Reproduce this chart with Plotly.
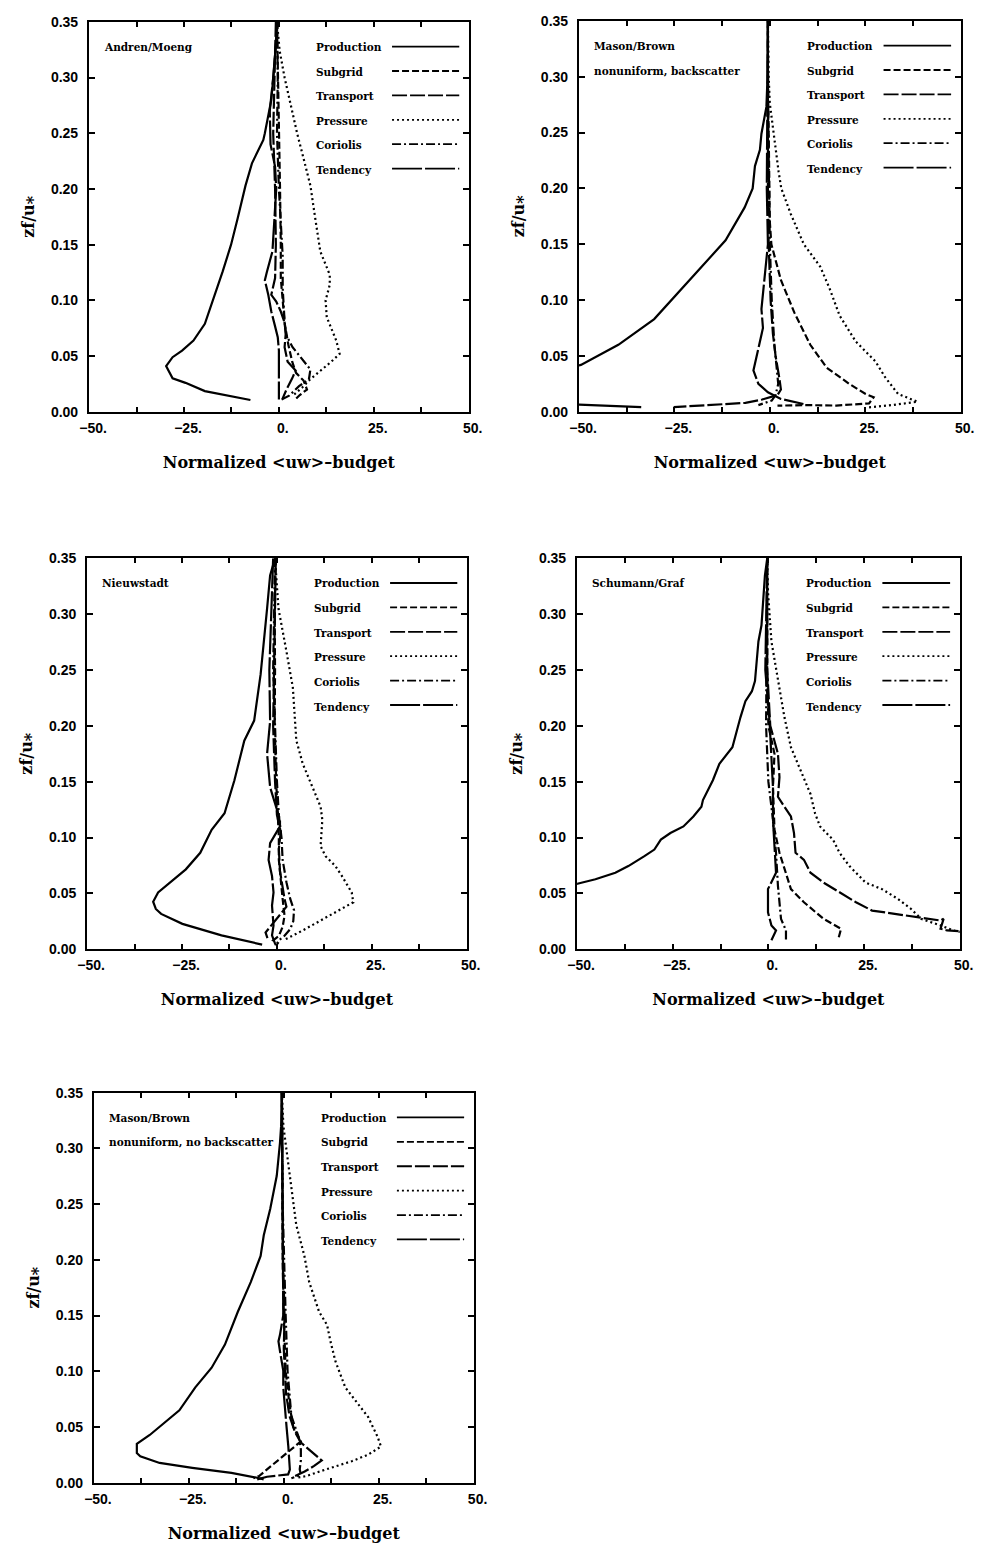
import plotly.graph_objects as go

# ------------------------------------------------------------------ data
series_names = ["Production", "Subgrid", "Transport", "Pressure", "Coriolis", "Tendency"]
x_tick_values = [-50, -25, 0, 25, 50]
x_tick_labels = ["−50.", "−25.", "0.", "25.", "50."]
y_tick_values = [0, 0.05, 0.10, 0.15, 0.20, 0.25, 0.30, 0.35]
y_tick_labels = ["0.00", "0.05", "0.10", "0.15", "0.20", "0.25", "0.30", "0.35"]

# Panel 1: Andren/Moeng
am_production_z = [0.35, 0.333, 0.303, 0.28, 0.25, 0.244, 0.223, 0.203, 0.173, 0.15, 0.126, 0.10, 0.079, 0.064, 0.055, 0.049, 0.041, 0.030, 0.026, 0.0186, 0.0106]
am_production_v = [-0.5, -0.7, -1.4, -2.0, -3.7, -4.1, -7.1, -8.8, -10.9, -12.6, -14.8, -17.3, -19.5, -22.5, -25.5, -28.0, -29.7, -28.0, -24.6, -19.5, -7.5]
am_subgrid_z = [0.35, 0.30, 0.25, 0.20, 0.15, 0.12, 0.10, 0.08, 0.06, 0.045, 0.035, 0.028, 0.02, 0.015, 0.01]
am_subgrid_v = [-0.5, -0.2, 0.0, 0.3, 0.5, 0.5, 1.0, 1.5, 2.5, 3.5, 4.5, 6.5, 7.4, 5.5, 4.0]
am_transport_z = [0.35, 0.30, 0.25, 0.20, 0.15, 0.12, 0.105, 0.099, 0.09, 0.08, 0.07, 0.058, 0.045, 0.037, 0.03, 0.02, 0.012]
am_transport_v = [-0.8, -1.2, -1.5, -1.0, -0.8, -1.0, -2.0, -0.7, 0.5, 1.5, 1.8, 1.5, 2.3, 4.4, 3.5, 2.0, 1.0]
am_pressure_z = [0.35, 0.324, 0.30, 0.274, 0.25, 0.226, 0.203, 0.173, 0.144, 0.123, 0.114, 0.10, 0.085, 0.064, 0.052, 0.045, 0.038, 0.029, 0.022, 0.014]
am_pressure_v = [-0.5, 0.2, 1.5, 3.2, 4.8, 6.6, 8.3, 9.6, 10.9, 13.4, 13.4, 12.3, 12.6, 15.1, 16.0, 13.8, 11.3, 8.2, 6.2, 3.5]
am_coriolis_z = [0.35, 0.30, 0.25, 0.20, 0.14, 0.111, 0.081, 0.069, 0.058, 0.049, 0.038, 0.029, 0.023, 0.0145, 0.01]
am_coriolis_v = [-0.5, -0.3, -0.5, 0.0, 1.0, 1.0, 1.5, 1.9, 3.6, 5.7, 8.3, 7.9, 5.3, 2.7, 0.1]
am_tendency_z = [0.35, 0.33, 0.30, 0.27, 0.24, 0.22, 0.20, 0.173, 0.144, 0.125, 0.118, 0.105, 0.09, 0.078, 0.067, 0.055, 0.04, 0.02, 0.011]
am_tendency_v = [-0.5, -0.8, -1.5, -2.4, -2.2, -1.0, -0.7, -1.1, -1.7, -3.2, -3.7, -2.8, -2.0, -1.1, -0.3, 0.0, 0.0, 0.0, 0.0]

# Panel 2: Mason/Brown, nonuniform, backscatter
mbb_production_z = [0.35, 0.30, 0.273, 0.249, 0.2345, 0.22, 0.20, 0.183, 0.1535, 0.121, 0.083, 0.06, 0.042, 0.03, 0.015, 0.008, 0.0042]
mbb_production_v = [-0.5, -0.6, -0.9, -2.2, -2.6, -3.9, -4.5, -6.6, -11.6, -20.1, -30.3, -39.7, -49.5, -65.0, -80.0, -62.0, -33.7]
mbb_subgrid_z = [0.35, 0.30, 0.25, 0.20, 0.17, 0.15, 0.118, 0.089, 0.06, 0.0395, 0.025, 0.016, 0.013, 0.0075, 0.0056, 0.006, 0.0055]
mbb_subgrid_v = [-0.5, -0.5, -0.3, -0.2, 0.0, 0.4, 2.9, 6.4, 10.6, 14.9, 20.8, 25.1, 27.2, 26.0, 17.4, 8.9, 2.0]
mbb_transport_z = [0.35, 0.25, 0.20, 0.15, 0.10, 0.07, 0.05, 0.03, 0.02, 0.015, 0.011, 0.008, 0.006, 0.0042]
mbb_transport_v = [-0.5, -0.6, -0.5, -0.3, 0.2, 0.8, 1.5, 2.5, 2.9, 2.0, -2.0, -6.4, -15.0, -25.2]
mbb_pressure_z = [0.35, 0.30, 0.276, 0.243, 0.215, 0.20, 0.177, 0.15, 0.13, 0.11, 0.086, 0.063, 0.045, 0.031, 0.016, 0.009, 0.006, 0.004]
mbb_pressure_v = [-0.5, -0.3, 0.0, 1.2, 2.3, 3.0, 5.5, 8.9, 13.2, 15.7, 18.3, 22.5, 27.7, 30.2, 33.6, 38.7, 32.0, 26.0]
mbb_coriolis_z = [0.35, 0.25, 0.15, 0.10, 0.06, 0.04, 0.025, 0.015, 0.01, 0.006]
mbb_coriolis_v = [-0.5, -0.4, 0.0, 0.5, 1.2, 1.8, 2.2, 1.5, 0.5, -3.0]
mbb_tendency_z = [0.35, 0.30, 0.25, 0.20, 0.15, 0.12, 0.092, 0.075, 0.06, 0.045, 0.037, 0.025, 0.0175, 0.016, 0.0115, 0.007]
mbb_tendency_v = [-0.5, -0.6, -0.8, -0.8, -0.5, -1.3, -2.2, -1.8, -2.8, -3.9, -4.3, -3.0, -0.5, 0.4, 2.9, 8.8]

# Panel 3: Nieuwstadt
nw_production_z = [0.35, 0.3346, 0.305, 0.2755, 0.246, 0.2047, 0.1867, 0.1513, 0.1217, 0.1069, 0.0863, 0.0715, 0.0567, 0.0508, 0.0425, 0.036, 0.0316, 0.0227, 0.0124, 0.0041]
nw_production_v = [-0.5, -1.8, -2.6, -3.5, -4.3, -6.0, -8.6, -11.2, -13.8, -17.2, -20.2, -24.0, -29.2, -31.3, -32.6, -31.9, -30.5, -24.9, -14.6, -3.9]
nw_subgrid_z = [0.35, 0.30, 0.25, 0.20, 0.15, 0.12, 0.10, 0.08, 0.06, 0.045, 0.03, 0.02, 0.012, 0.008, 0.005]
nw_subgrid_v = [-0.3, -0.6, -0.5, -0.6, -0.2, 0.2, 0.5, 0.5, 1.0, 1.5, 2.0, 1.5, 0.5, -1.0, 0.5]
nw_transport_z = [0.35, 0.30, 0.25, 0.20, 0.15, 0.12, 0.105, 0.09, 0.07, 0.055, 0.045, 0.038, 0.03, 0.022, 0.015, 0.01]
nw_transport_v = [-0.3, -0.5, -0.8, -1.0, -0.5, 0.0, 1.0, 0.5, 0.8, 1.5, 2.0, 2.5, 0.5, -1.5, -3.0, -2.5]
nw_pressure_z = [0.35, 0.305, 0.2667, 0.234, 0.2076, 0.187, 0.166, 0.145, 0.1276, 0.1158, 0.0922, 0.0833, 0.0744, 0.0656, 0.0508, 0.042, 0.0331, 0.0242, 0.0168, 0.0109, 0.008]
nw_pressure_v = [-0.5, 0.4, 2.5, 4.2, 4.7, 5.1, 6.8, 9.4, 11.5, 11.95, 11.5, 12.8, 15.4, 17.1, 19.7, 20.1, 15.4, 11.1, 6.8, 3.4, 1.7]
nw_coriolis_z = [0.35, 0.30, 0.25, 0.20, 0.15, 0.12, 0.10, 0.08, 0.06, 0.045, 0.035, 0.025, 0.018, 0.012, 0.008]
nw_coriolis_v = [-0.5, -0.8, -1.0, -0.5, 0.0, 0.5, 1.2, 1.5, 2.5, 3.5, 4.5, 4.3, 3.5, 2.0, 0.5]
nw_tendency_z = [0.35, 0.30, 0.25, 0.204, 0.175, 0.145, 0.125, 0.116, 0.11, 0.095, 0.080, 0.0656, 0.0508, 0.039, 0.0213, 0.0124, 0.005, 0.002]
nw_tendency_v = [-1.0, -1.5, -2.0, -1.8, -2.6, -1.8, -0.04, 0.8, 0.8, -1.8, -2.2, -1.3, -0.9, -1.3, -0.9, -1.3, -0.5, 0.0]

# Panel 4: Schumann/Graf
sg_production_z = [0.35, 0.3346, 0.29, 0.2755, 0.24, 0.231, 0.222, 0.2076, 0.1808, 0.166, 0.1513, 0.1335, 0.1276, 0.1188, 0.1099, 0.104, 0.0981, 0.0892, 0.0833, 0.0744, 0.0685, 0.0626, 0.0591, 0.05]
sg_production_v = [-0.3, -0.9, -1.8, -2.6, -3.5, -4.3, -6.0, -7.3, -9.4, -12.8, -14.5, -17.1, -17.5, -19.6, -22.2, -25.6, -28.1, -29.8, -32.4, -36.6, -40.0, -45.2, -49.4, -60.0]
sg_subgrid_z = [0.35, 0.25, 0.20, 0.175, 0.145, 0.107, 0.0863, 0.0685, 0.0538, 0.042, 0.0272, 0.0183, 0.008]
sg_subgrid_v = [-0.3, -0.3, 0.0, 1.6, 1.2, 1.6, 2.9, 4.6, 5.9, 9.3, 14.4, 19.0, 18.2]
sg_transport_z = [0.35, 0.25, 0.20, 0.175, 0.154, 0.1365, 0.1276, 0.1188, 0.104, 0.0863, 0.080, 0.0685, 0.0597, 0.0508, 0.042, 0.0346, 0.0301, 0.0257, 0.0272, 0.0183, 0.0168, 0.0162]
sg_transport_v = [-0.3, -0.3, 0.5, 2.5, 2.9, 2.5, 4.2, 5.9, 6.7, 7.1, 9.3, 11.0, 14.4, 18.6, 22.9, 27.1, 35.6, 45.0, 45.8, 45.0, 46.7, 49.7]
sg_pressure_z = [0.35, 0.32, 0.2755, 0.24, 0.2076, 0.1808, 0.160, 0.139, 0.1217, 0.1099, 0.098, 0.0863, 0.0744, 0.0597, 0.0538, 0.0449, 0.036, 0.0272, 0.0213, 0.0168, 0.0154, 0.013]
sg_pressure_v = [-0.3, -0.1, 0.8, 2.5, 4.2, 5.9, 8.4, 11.0, 12.2, 13.5, 16.9, 18.6, 21.2, 25.4, 29.7, 33.9, 37.3, 39.9, 45.0, 48.4, 50.1, 53.0]
sg_coriolis_z = [0.35, 0.25, 0.20, 0.15, 0.116, 0.0863, 0.0567, 0.0272, 0.0168, 0.008]
sg_coriolis_v = [-0.3, -0.5, -0.6, 0.0, 1.2, 2.0, 2.5, 3.3, 4.6, 4.6]
sg_tendency_z = [0.35, 0.30, 0.25, 0.2044, 0.175, 0.145, 0.116, 0.0863, 0.0685, 0.0538, 0.033, 0.0213, 0.0168, 0.008]
sg_tendency_v = [-0.3, -0.5, -0.8, 0.3, 0.8, 1.2, 1.2, 1.6, 2.0, -0.1, -0.1, 0.8, 2.0, 0.8]

# Panel 5: Mason/Brown, nonuniform, no backscatter
mbn_production_z = [0.35, 0.32, 0.305, 0.2754, 0.2458, 0.222, 0.2035, 0.18, 0.1534, 0.1239, 0.1032, 0.0855, 0.0649, 0.0531, 0.0428, 0.0348, 0.0265, 0.0236, 0.0177, 0.0133, 0.0088, 0.0044, 0.003]
mbn_production_v = [-0.5, -0.7, -1.0, -1.85, -3.56, -5.27, -6.1, -8.7, -12.1, -15.5, -19.0, -23.3, -27.5, -31.8, -35.3, -38.7, -38.7, -37.8, -32.7, -24.1, -13.8, -7.0, -5.3]
mbn_subgrid_z = [0.35, 0.25, 0.20, 0.15, 0.10, 0.07, 0.05, 0.037, 0.03, 0.022, 0.015, 0.01, 0.006, 0.004]
mbn_subgrid_v = [-0.5, -0.4, -0.3, 0.0, 0.5, 1.5, 2.5, 4.5, 2.0, -1.0, -3.5, -5.0, -6.5, -8.0]
mbn_transport_z = [0.35, 0.25, 0.20, 0.15, 0.12, 0.10, 0.08, 0.06, 0.045, 0.036, 0.03, 0.02, 0.015, 0.01, 0.006]
mbn_transport_v = [-0.5, -0.3, -0.2, 0.2, 0.0, 0.3, 0.6, 1.5, 3.0, 4.5, 6.5, 10.0, 8.0, 5.5, 3.0]
mbn_pressure_z = [0.35, 0.32, 0.2754, 0.231, 0.204, 0.18, 0.1534, 0.1416, 0.1268, 0.109, 0.0855, 0.0708, 0.059, 0.0413, 0.0324, 0.0251, 0.0192, 0.0118, 0.0059, 0.0044]
mbn_pressure_v = [-0.5, -0.1, 1.6, 3.3, 5.4, 6.7, 9.3, 11.4, 12.3, 13.6, 16.2, 19.6, 22.2, 24.7, 25.6, 22.2, 17.9, 11.0, 5.9, 3.3]
mbn_coriolis_z = [0.35, 0.25, 0.15, 0.10, 0.06, 0.04, 0.03, 0.02, 0.012, 0.007, 0.004]
mbn_coriolis_v = [-0.5, -0.3, 0.5, 1.0, 2.0, 4.0, 4.5, 4.5, 4.2, 4.5, 2.0]
mbn_tendency_z = [0.35, 0.30, 0.25, 0.20, 0.1504, 0.1327, 0.1268, 0.118, 0.1003, 0.0855, 0.0708, 0.0501, 0.0324, 0.0221, 0.0118, 0.0074, 0.0053, 0.003]
mbn_tendency_v = [-0.5, -0.4, -0.3, -0.2, -0.13, -1.0, -1.4, -1.0, -0.13, -0.13, 0.3, 0.73, 1.2, 1.4, 1.6, 1.15, -4.4, -7.0]

panel_labels = [
    ["Andren/Moeng"],
    ["Mason/Brown", "nonuniform, backscatter"],
    ["Nieuwstadt"],
    ["Schumann/Graf"],
    ["Mason/Brown", "nonuniform, no backscatter"],
]

panel_data = [
    [(am_production_v, am_production_z), (am_subgrid_v, am_subgrid_z), (am_transport_v, am_transport_z),
     (am_pressure_v, am_pressure_z), (am_coriolis_v, am_coriolis_z), (am_tendency_v, am_tendency_z)],
    [(mbb_production_v, mbb_production_z), (mbb_subgrid_v, mbb_subgrid_z), (mbb_transport_v, mbb_transport_z),
     (mbb_pressure_v, mbb_pressure_z), (mbb_coriolis_v, mbb_coriolis_z), (mbb_tendency_v, mbb_tendency_z)],
    [(nw_production_v, nw_production_z), (nw_subgrid_v, nw_subgrid_z), (nw_transport_v, nw_transport_z),
     (nw_pressure_v, nw_pressure_z), (nw_coriolis_v, nw_coriolis_z), (nw_tendency_v, nw_tendency_z)],
    [(sg_production_v, sg_production_z), (sg_subgrid_v, sg_subgrid_z), (sg_transport_v, sg_transport_z),
     (sg_pressure_v, sg_pressure_z), (sg_coriolis_v, sg_coriolis_z), (sg_tendency_v, sg_tendency_z)],
    [(mbn_production_v, mbn_production_z), (mbn_subgrid_v, mbn_subgrid_z), (mbn_transport_v, mbn_transport_z),
     (mbn_pressure_v, mbn_pressure_z), (mbn_coriolis_v, mbn_coriolis_z), (mbn_tendency_v, mbn_tendency_z)],
]

x_title = "Normalized &lt;uw&gt;–budget"
y_title = "zf/u⁎"

# ------------------------------------------------------------------ styles / layout
W, H = 1001, 1554
# plot-area boxes in pixels: (left, right, top, bottom)
boxes = [(81, 470, 14, 408), (583, 974, 13, 408), (79, 468, 556, 951), (581, 973, 556, 951), (86, 475, 1096, 1490)]
dash_styles = {
    "Production": "solid",
    "Subgrid": "7px,3px",
    "Transport": "15px,3px",
    "Pressure": "2px,3px",
    "Coriolis": "9px,3px,2px,3px",
    "Tendency": "30px,3px",
}
serif = "DejaVu Serif"
sans = "Liberation Sans"
title_font = dict(family=serif, size=16, color="black", weight="bold")

fig = go.Figure()
layout = dict(
    width=W, height=H, margin=dict(l=0, r=0, t=0, b=0),
    paper_bgcolor="white", plot_bgcolor="white", showlegend=False,
)
annotations = []
shapes = []

for i, (box, data, labels) in enumerate(zip(boxes, panel_data, panel_labels), start=1):
    l, r, t, b = box
    xn = "x" if i == 1 else f"x{i}"
    yn = "y" if i == 1 else f"y{i}"
    xkey = "xaxis" if i == 1 else f"xaxis{i}"
    ykey = "yaxis" if i == 1 else f"yaxis{i}"
    ph = b - t
    layout[xkey] = dict(
        domain=[l / W, r / W], anchor=yn, range=[-50, 50],
        tickmode="array", tickvals=x_tick_values, ticktext=x_tick_labels,
        ticks="inside", ticklen=5, tickwidth=1.5, tickcolor="black",
        minor=dict(tick0=-50, dtick=12.5, ticks="inside", ticklen=5, tickwidth=1.5, tickcolor="black", showgrid=False),
        showline=True, linewidth=2.2, linecolor="black", mirror="ticks",
        showgrid=False, zeroline=False,
        tickfont=dict(family=sans, size=14, color="black", weight="bold"),
        ticklabelstandoff=2, ticklabelshift=4,
        title=dict(text=x_title, font=title_font, standoff=22),
    )
    layout[ykey] = dict(
        domain=[1 - b / H, 1 - t / H], anchor=xn, range=[0, 0.35],
        tickmode="array", tickvals=y_tick_values, ticktext=y_tick_labels,
        ticks="inside", ticklen=6, tickwidth=1.5, tickcolor="black",
        showline=True, linewidth=2.2, linecolor="black", mirror="ticks",
        showgrid=False, zeroline=False,
        tickfont=dict(family=sans, size=14, color="black", weight="bold"),
        ticklabelstandoff=6,
        title=dict(text=y_title, font=title_font, standoff=12),
    )
    for name, (v, z) in zip(series_names, data):
        fig.add_trace(go.Scatter(
            x=v, y=z, mode="lines", name=name, xaxis=xn, yaxis=yn,
            line=dict(color="black", width=2.2, dash=dash_styles[name]),
            hoverinfo="skip",
        ))
    # panel labels
    for k, lab in enumerate(labels):
        annotations.append(dict(
            text=lab, xref=f"{xn} domain", yref=f"{yn} domain",
            x=0.035, y=1, yshift=-(25 + 24.65 * k), xanchor="left", yanchor="middle",
            showarrow=False, font=dict(family=serif, size=10.5, color="black", weight="bold"),
        ))
    # legend (text left, line sample right)
    for k, name in enumerate(series_names):
        off = 25 + 24.65 * k
        annotations.append(dict(
            text=name, xref=f"{xn} domain", yref=f"{yn} domain",
            x=0.592, y=1, yshift=-off, xanchor="left", yanchor="middle",
            showarrow=False, font=dict(family=serif, size=10.5, color="black", weight="bold"),
        ))
        yy = 1 - off / ph
        shapes.append(dict(
            type="line", xref=f"{xn} domain", yref=f"{yn} domain",
            x0=0.798, x1=0.975, y0=yy, y1=yy,
            line=dict(color="black", width=1.8, dash=dash_styles[name]),
        ))

layout["annotations"] = annotations
layout["shapes"] = shapes
fig.update_layout(**layout)
fig.write_html("out.html")
